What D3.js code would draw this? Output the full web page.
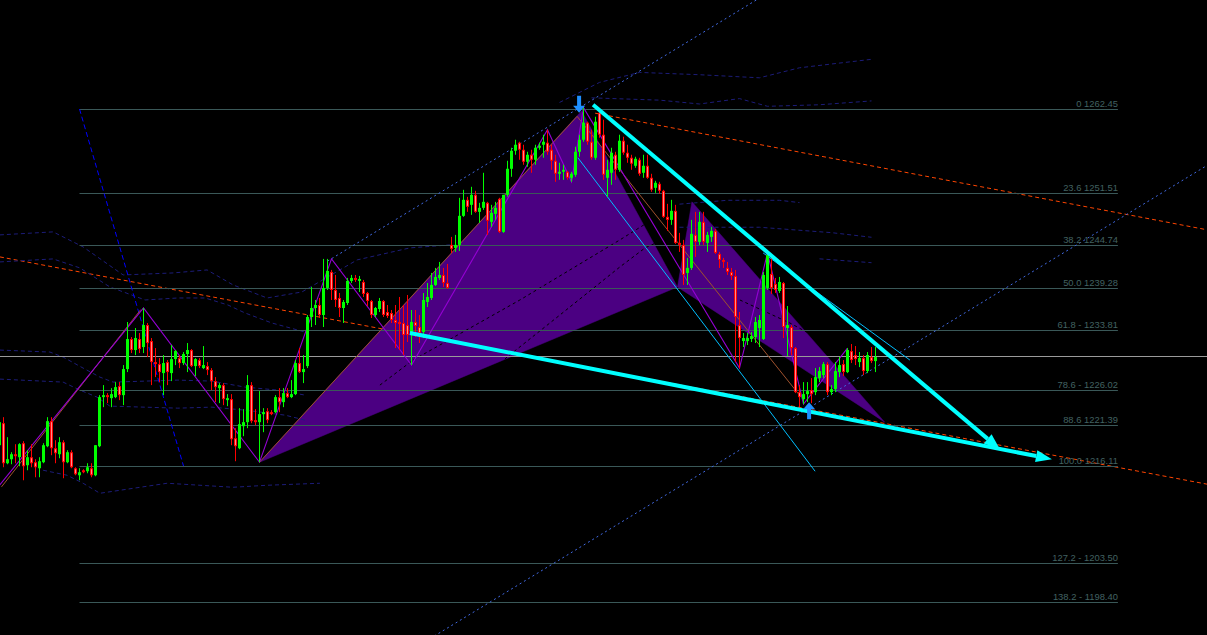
<!DOCTYPE html>
<html><head><meta charset="utf-8">
<script src="https://cdn.jsdelivr.net/npm/d3@7"></script>
<style>html,body{margin:0;padding:0;background:#000;overflow:hidden}svg{display:block}</style>
</head><body>
<svg id="chart" width="1207" height="635"></svg>
<script>
// ---------- DATA ----------
const opens=[1218.81,1221.67,1216.47,1216.99,1217.64,1217.25,1219.07,1216.21,1217.25,1216.60,1215.82,1216.60,1218.68,1221.93,1218.42,1217.64,1219.20,1216.60,1217.90,1215.82,1214.91,1215.56,1215.43,1215.82,1214.91,1218.68,1225.05,1225.31,1224.92,1225.05,1226.48,1225.31,1228.69,1232.59,1231.16,1232.59,1231.55,1234.41,1232.33,1229.60,1229.34,1228.17,1229.60,1228.17,1229.99,1230.12,1229.47,1230.64,1231.16,1229.08,1229.86,1228.82,1229.08,1228.56,1227.13,1226.22,1226.61,1224.66,1224.79,1219.72,1218.42,1221.28,1221.80,1226.61,1222.06,1221.80,1222.84,1223.23,1223.10,1223.10,1225.05,1224.40,1225.57,1225.05,1225.44,1229.47,1228.30,1229.08,1235.45,1236.62,1237.01,1235.71,1239.22,1241.30,1238.96,1237.92,1236.62,1237.27,1240.13,1240.52,1240.13,1240.00,1238.57,1237.53,1235.71,1236.49,1237.53,1236.10,1235.97,1235.06,1234.80,1234.67,1234.41,1233.11,1234.80,1234.15,1233.50,1237.40,1237.92,1239.61,1240.52,1240.91,1239.87,1244.81,1244.42,1244.81,1248.58,1250.66,1250.01,1251.31,1249.10,1249.62,1250.27,1247.80,1248.84,1250.79,1246.50,1251.31,1254.69,1257.03,1258.07,1257.16,1255.60,1256.51,1255.86,1257.42,1257.81,1258.07,1257.16,1255.73,1254.04,1254.30,1254.30,1253.52,1253.91,1256.90,1258.46,1260.67,1258.20,1256.12,1261.97,1259.11,1253.52,1254.17,1256.51,1254.56,1258.33,1256.77,1256.12,1255.08,1255.86,1254.17,1255.08,1253.52,1252.22,1252.74,1251.83,1248.45,1248.06,1249.23,1245.07,1244.81,1241.17,1241.82,1246.11,1245.20,1247.80,1245.07,1245.85,1246.63,1243.64,1242.86,1241.82,1241.30,1240.78,1234.41,1232.33,1232.33,1232.59,1232.85,1234.02,1232.59,1239.22,1241.04,1239.74,1238.83,1239.87,1234.02,1234.15,1231.42,1225.70,1224.79,1225.44,1225.96,1225.70,1227.52,1227.91,1229.34,1225.70,1226.09,1228.30,1229.34,1228.30,1231.03,1230.51,1229.60,1230.12,1228.43,1230.25,1229.73];
const highs=[1222.06,1222.45,1219.85,1217.90,1218.94,1219.07,1219.33,1218.16,1218.94,1216.99,1217.25,1219.07,1222.45,1222.45,1219.46,1219.85,1219.46,1218.16,1218.16,1215.95,1215.82,1215.69,1216.47,1216.47,1218.81,1225.31,1226.61,1225.57,1226.22,1227.00,1227.00,1229.21,1234.80,1232.85,1234.02,1233.37,1236.62,1234.67,1232.72,1231.42,1230.12,1230.51,1229.86,1231.81,1231.16,1230.51,1230.90,1232.07,1231.29,1230.12,1230.12,1231.68,1229.60,1228.82,1227.65,1226.87,1226.87,1225.44,1225.44,1221.02,1223.62,1223.49,1227.91,1227.00,1223.49,1225.83,1223.62,1223.62,1223.36,1225.31,1226.22,1226.22,1226.22,1227.26,1229.86,1231.42,1230.51,1235.71,1239.35,1237.66,1237.92,1242.99,1242.99,1241.56,1240.91,1238.57,1237.66,1240.52,1240.91,1240.91,1240.78,1240.26,1238.70,1237.66,1236.75,1237.92,1237.66,1237.01,1236.36,1237.01,1238.05,1237.01,1238.31,1236.36,1236.36,1235.71,1238.57,1239.87,1241.17,1241.82,1242.60,1241.82,1242.34,1245.85,1246.11,1250.92,1251.96,1251.05,1252.35,1251.83,1250.27,1254.17,1250.40,1250.01,1250.40,1250.92,1251.31,1255.73,1257.42,1258.46,1258.20,1257.81,1256.90,1257.16,1257.81,1258.07,1259.11,1259.76,1257.81,1256.51,1255.47,1255.21,1254.43,1254.30,1257.55,1259.11,1262.62,1260.80,1259.76,1261.45,1262.36,1261.06,1255.86,1257.42,1256.90,1259.11,1258.85,1257.81,1256.51,1256.25,1256.12,1256.51,1256.51,1254.04,1253.13,1253.00,1251.96,1250.14,1250.66,1250.01,1246.37,1245.46,1243.12,1248.06,1249.10,1249.10,1249.10,1246.50,1247.15,1246.89,1243.90,1243.12,1242.60,1241.82,1241.56,1236.10,1233.37,1233.37,1233.50,1235.45,1235.71,1241.30,1243.77,1243.51,1240.52,1240.65,1240.00,1236.88,1234.41,1231.55,1226.61,1227.00,1227.00,1227.52,1228.82,1228.95,1229.60,1229.60,1226.61,1229.60,1230.25,1229.86,1231.42,1231.94,1231.68,1230.90,1230.51,1230.90,1231.55,1231.55];
const lows=[1218.68,1215.95,1216.34,1216.34,1216.47,1216.08,1214.26,1215.56,1215.95,1214.65,1214.65,1216.47,1218.55,1217.51,1216.47,1217.12,1214.52,1216.47,1215.82,1214.91,1214.26,1215.17,1215.17,1214.65,1214.78,1218.55,1223.75,1224.27,1223.75,1224.92,1224.66,1224.01,1228.30,1230.77,1230.51,1230.77,1230.77,1230.25,1226.61,1227.65,1227.00,1225.31,1226.61,1227.13,1229.21,1228.82,1229.21,1228.30,1228.95,1227.78,1228.82,1228.69,1227.91,1225.96,1224.40,1224.27,1224.01,1223.88,1218.81,1216.73,1218.29,1219.98,1221.02,1221.67,1221.41,1216.60,1220.50,1221.67,1222.71,1222.97,1223.10,1223.75,1224.92,1224.92,1225.31,1228.17,1226.87,1228.82,1234.15,1234.41,1235.32,1234.15,1238.96,1237.66,1236.75,1235.45,1234.67,1237.01,1239.87,1240.00,1238.70,1238.05,1236.88,1235.32,1235.45,1236.10,1235.45,1235.32,1234.67,1231.42,1231.16,1230.51,1232.20,1229.21,1232.85,1232.07,1232.72,1236.75,1237.66,1239.48,1240.26,1239.35,1239.09,1243.77,1243.90,1244.03,1248.45,1249.10,1248.71,1248.97,1247.67,1249.36,1246.11,1247.15,1248.06,1246.37,1246.37,1251.05,1253.65,1256.51,1255.86,1255.21,1254.95,1254.17,1255.21,1257.16,1256.12,1256.51,1254.56,1253.00,1253.26,1253.26,1253.26,1253.00,1253.65,1256.25,1258.20,1257.81,1255.86,1255.86,1258.72,1253.26,1251.05,1252.61,1253.26,1254.30,1256.51,1255.47,1254.56,1254.82,1253.78,1253.52,1253.39,1251.70,1251.57,1251.44,1248.32,1246.63,1247.41,1244.94,1243.90,1239.61,1239.61,1241.56,1243.25,1244.81,1244.81,1243.90,1245.20,1243.64,1241.82,1241.82,1240.91,1240.26,1229.60,1228.82,1231.55,1231.81,1232.20,1232.07,1231.55,1232.46,1238.96,1238.44,1238.57,1238.57,1232.72,1230.38,1230.51,1225.57,1223.75,1224.14,1224.40,1224.27,1225.31,1227.00,1227.52,1225.31,1225.31,1225.70,1227.65,1227.78,1228.17,1229.47,1229.21,1228.95,1227.91,1228.17,1229.47,1228.30];
const closes=[1221.80,1216.47,1216.99,1217.64,1217.38,1218.94,1216.08,1217.25,1216.47,1215.95,1216.73,1218.81,1221.93,1218.42,1217.77,1219.20,1216.60,1217.90,1215.95,1215.04,1215.30,1215.30,1215.95,1214.91,1218.81,1225.05,1225.31,1225.05,1225.44,1226.35,1225.31,1228.69,1232.59,1231.16,1232.72,1231.29,1234.41,1232.07,1229.60,1229.34,1228.30,1229.47,1228.30,1229.99,1231.03,1229.47,1230.64,1231.16,1229.08,1229.99,1229.08,1229.21,1228.56,1227.13,1226.35,1226.61,1224.79,1224.92,1219.59,1218.68,1221.54,1221.80,1226.61,1221.93,1221.80,1222.84,1223.10,1222.06,1222.84,1225.05,1224.40,1225.57,1225.05,1225.44,1229.47,1228.30,1228.69,1235.45,1236.62,1237.01,1235.71,1239.22,1241.43,1238.96,1237.66,1236.62,1237.40,1240.13,1240.52,1240.26,1240.39,1238.44,1237.53,1235.71,1236.62,1237.53,1235.71,1235.58,1235.06,1234.67,1234.54,1233.11,1233.11,1234.80,1234.28,1233.37,1237.66,1238.05,1239.61,1240.65,1240.91,1239.87,1239.22,1244.29,1244.81,1248.58,1250.66,1249.75,1251.31,1249.10,1249.62,1250.40,1247.93,1248.97,1249.62,1246.50,1251.31,1254.69,1257.03,1257.81,1257.16,1255.60,1256.51,1255.86,1257.42,1257.68,1258.20,1256.90,1255.73,1254.04,1254.30,1254.56,1253.52,1254.04,1256.90,1258.46,1260.67,1258.20,1256.12,1260.80,1259.11,1253.91,1254.56,1256.77,1254.56,1258.33,1256.77,1256.12,1255.34,1255.99,1254.04,1255.08,1253.52,1251.96,1252.87,1251.83,1248.45,1248.06,1249.23,1245.07,1244.81,1240.91,1241.82,1246.24,1245.20,1247.80,1245.20,1246.11,1246.63,1243.77,1242.86,1242.60,1241.30,1240.78,1235.45,1232.72,1232.72,1232.72,1232.98,1234.80,1235.06,1240.91,1243.51,1239.22,1238.96,1240.00,1234.15,1234.41,1231.42,1225.70,1225.05,1225.44,1225.83,1225.44,1227.65,1228.43,1229.34,1225.70,1226.09,1228.43,1229.21,1228.30,1231.16,1229.86,1229.99,1230.12,1228.43,1230.51,1229.73,1230.25];

// Fibonacci retracement
const fibHigh=1262.45, fibLow=1216.11;
const fibPct=[0,23.6,38.2,50.0,61.8,78.6,88.6,100.0,127.2,138.2];
const fibLabels=["0 1262.45","23.6 1251.51","38.2 1244.74","50.0 1239.28","61.8 - 1233.81","78.6 - 1226.02","88.6 1221.39","100.0 1216.11","127.2 - 1203.50","138.2 - 1198.40"];
const fibAnchor=[[20,1262.45],[46,1216.11]];
const fibRightBar=279.6;

// Harmonic pattern X-A-B-C-D  [bar, price]
const patternX=[65,1216.60], patternA=[145.5,1262.2], patternB=[169.5,1239.35], patternC=[173.1,1250.4], patternD=[221.3,1221.8];

// ZigZag swings (violet) and larger swing legs (sienna)
const zigzag=[[0,1213.6],[36,1236.62],[65,1216.60],[83,1242.99],[103,1229.21],[137,1259.76],[143,1253.00],[146,1262.62],[185,1228.82],[192,1243.77],[201,1224.14],[212,1231.42]];
const swingLegsA=[[0.5,1213.4],[35.3,1236.4]];
const swingLegsB=[[65,1216.6],[144.4,1261.5],[200,1225.3]];

// Trend channel (royal blue dotted)
const channelTop=[[82,1242.7],[190,1276.85]];
const channelBottomAt=[150,1207.1];
const channelEndBar=320;

// Regression-style lines (orange-red dashed)
const orangeLower=[[0.1,1243.25],[302,1213.74]];
const orangeUpper=[[148.9,1261.91],[302,1246.76]];

// Thin trend lines (deep sky blue)
const thinLine1=[[144.6,1256.12],[203.9,1215.43]];
const thinLine2=[[190.9,1243.77],[227.6,1229.86]];

// Thick arrows (cyan)
const arrow1=[[148.4,1263.01],[250.1,1218.29]];
const arrow2=[[102.6,1233.37],[263.1,1217.0]];

// Signal arrows
const signalDown=[144.9,1261.97];
const signalUp=[202.4,1224.4];

// Envelope lines (navy dashed)
const env1=[[0.1,1246.11],[13.4,1246.50],[20.9,1244.55],[30.9,1240.91],[43.4,1241.17],[51.9,1241.56],[58.4,1239.61],[66.9,1237.92],[75.6,1238.70],[89.4,1242.86],[102.6,1244.42],[112.6,1244.81]];
const env2=[[0.1,1242.60],[13.4,1242.99],[20.1,1241.82],[27.6,1239.35],[36.4,1237.66],[44.6,1237.92],[51.4,1237.92],[57.1,1237.01],[61.4,1235.97],[68.1,1234.67],[76.4,1233.50]];
const env3=[[0.1,1231.16],[12.6,1230.90],[15.9,1230.25],[20.9,1228.82],[25.1,1227.65],[28.4,1227.00],[44.6,1227.26],[53.1,1227.13],[61.4,1226.35],[69.6,1225.96],[76.4,1225.31]];
const env4=[[0.1,1227.39],[15.9,1227.00],[20.1,1225.96],[24.4,1225.05],[27.6,1223.88],[44.6,1223.62],[53.1,1223.75],[61.4,1223.36],[71.4,1222.71],[76.4,1222.06]];
const env5=[[10.9,1215.56],[16.9,1214.91],[20.9,1213.87],[25.1,1212.57],[41.9,1213.87],[58.4,1213.35],[66.9,1213.61],[80.1,1213.87]];
const env6=[[140,1263.3],[150,1265.9],[160,1267.2],[175,1266.9],[190,1266.5],[200,1267.8],[218,1268.9]];
const env7=[[148,1263.9],[165,1263.6],[175,1263.1],[185,1263.8],[192,1262.8],[205,1263.0],[218,1263.5]];
const env8=[[170,1250.1],[182,1250.6],[195,1250.6],[200,1250.3]];
const env9=[[170,1247.1],[190,1247.1],[208,1246.4],[218,1245.8]];
const env10=[[205,1243.0],[218,1242.5]];
// dark averages (black dashed, seen over the pattern fill)
const avgDark1=[[95.1,1226.61],[103.4,1229.86],[130.1,1237.66],[155.1,1245.46],[163.1,1248.06],[172.6,1250.01]];
const avgDark2=[[117.6,1225.70],[126.9,1230.25],[140.1,1235.71],[155.1,1241.95],[161.4,1244.42],[170.1,1246.50]];
const avgDark3=[[185.1,1237.66],[197.6,1234.67],[210.1,1231.16],[220.1,1229.21]];

// ---------- DRAW ----------
const W=1207,H=635;
const svg=d3.select("#chart");
svg.append("rect").attr("width",W).attr("height",H).attr("fill","#000");
const x=d3.scaleLinear().domain([0,1]).range([-0.5,3.5]);
const y=d3.scaleLinear().domain([fibLow,fibHigh]).range([466,109]);
const line=d3.line().x(d=>x(d[0])).y(d=>y(d[1]));
const ext=(p1,p2,b)=>[p1,[b,p1[1]+(p2[1]-p1[1])/(p2[0]-p1[0])*(b-p1[0])]];

const g=svg.append("g");

// orange lines
[orangeLower,orangeUpper].forEach(l=>g.append("path").attr("d",line(l)).attr("fill","none")
  .attr("stroke","#ff4500").attr("stroke-width",1).attr("stroke-dasharray","4,3"));

// harmonic triangles
[[patternX,patternA,patternB],[patternB,patternC,patternD]].forEach(t=>
  g.append("path").attr("d",line(t)+"Z").attr("fill","#4b0082").attr("stroke","#4b0082").attr("stroke-width",0.5));

// envelopes
[env1,env2,env3,env4,env5,env6,env7,env8,env9,env10].forEach(l=>g.append("path").attr("d",line(l))
  .attr("fill","none").attr("stroke","#1c1c78").attr("stroke-width",1).attr("stroke-dasharray","4,3"));
[avgDark1,avgDark2,avgDark3].forEach(l=>g.append("path").attr("d",line(l))
  .attr("fill","none").attr("stroke","#000000").attr("stroke-width",1).attr("stroke-dasharray","3,3"));

// fib levels
const fibG=g.append("g");
fibPct.forEach((p,k)=>{
  const price=fibHigh-p/100*(fibHigh-fibLow);
  const yy=Math.round(y(price))+0.5;
  fibG.append("line").attr("x1",x(fibAnchor[0][0])).attr("x2",x(fibRightBar)).attr("y1",yy).attr("y2",yy)
    .attr("stroke","#3a5858").attr("stroke-width",1.2);
});
// fib base line
g.append("path").attr("d",line(fibAnchor)).attr("fill","none").attr("stroke","#0000ff")
  .attr("stroke-width",1).attr("stroke-dasharray","5,3");

// channel
const chTop=ext(channelTop[0],channelTop[1],channelEndBar);
const off=channelBottomAt[1]-(channelTop[0][1]+(channelTop[1][1]-channelTop[0][1])/(channelTop[1][0]-channelTop[0][0])*(channelBottomAt[0]-channelTop[0][0]));
const chBot=chTop.map(d=>[d[0],d[1]+off]);
[chTop,chBot].forEach(l=>g.append("path").attr("d",line(l)).attr("fill","none").attr("stroke","#4169e1")
  .attr("stroke-width",1).attr("stroke-dasharray","2,3"));

// bid line
const by=Math.round(y(closes[closes.length-1]))-0.5;
g.append("line").attr("x1",0).attr("x2",W).attr("y1",by).attr("y2",by).attr("stroke","#9a9a9a").attr("stroke-width",1);

// swing lines
[swingLegsA,swingLegsB].forEach(l=>g.append("path").attr("d",line(l)).attr("fill","none").attr("stroke","#a0522d").attr("stroke-width",1));
g.append("path").attr("d",line(zigzag)).attr("fill","none").attr("stroke","#9400d3").attr("stroke-width",1.1);

// thin lines
[thinLine1,thinLine2].forEach(l=>g.append("path").attr("d",line(l)).attr("fill","none").attr("stroke","#00bfff").attr("stroke-width",1));

// candles
const cg=g.append("g");
closes.forEach((c,i)=>{
  const o=opens[i], up=c>=o, col=up?"#00ff00":"#ff0000";
  const cx=x(i);
  cg.append("line").attr("x1",cx).attr("x2",cx).attr("y1",y(highs[i])).attr("y2",y(lows[i])).attr("stroke",col).attr("stroke-width",1);
  const t=y(Math.max(o,c)), b=y(Math.min(o,c));
  cg.append("rect").attr("x",cx-1.5).attr("y",t).attr("width",3).attr("height",Math.max(1,b-t)).attr("fill",col);
  if(!up && b-t>2) cg.append("line").attr("x1",cx).attr("x2",cx).attr("y1",t+1).attr("y2",b-1).attr("stroke","#ff8c8c").attr("stroke-width",1);
});

// thick arrows
[arrow1,arrow2].forEach(a=>{
  const x1=x(a[0][0]),y1=y(a[0][1]),x2=x(a[1][0]),y2=y(a[1][1]);
  const ang=Math.atan2(y2-y1,x2-x1), L=16, hw=6;
  const bx=x2-L*Math.cos(ang), byy=y2-L*Math.sin(ang);
  g.append("line").attr("x1",x1).attr("y1",y1).attr("x2",bx).attr("y2",byy).attr("stroke","#00ffff").attr("stroke-width",4);
  const p=[[x2,y2],[bx+hw*Math.sin(ang),byy-hw*Math.cos(ang)],[bx-hw*Math.sin(ang),byy+hw*Math.cos(ang)]];
  g.append("path").attr("d","M"+p.map(q=>q.join(",")).join("L")+"Z").attr("fill","#00ffff");
});

// signal arrows
function sig(pt,dir){
  const cx=x(pt[0]), ty=y(pt[1]), s=dir==="down"?-1:1;
  const d=`M${cx},${ty} L${cx-6},${ty+s*7} L${cx-2},${ty+s*7} L${cx-2},${ty+s*17} L${cx+2},${ty+s*17} L${cx+2},${ty+s*7} L${cx+6},${ty+s*7} Z`;
  g.append("path").attr("d",d).attr("fill","#1e90ff");
}
sig(signalDown,"down"); sig(signalUp,"up");

// fib labels
fibPct.forEach((p,k)=>{
  const price=fibHigh-p/100*(fibHigh-fibLow);
  g.append("text").attr("x",x(fibRightBar)).attr("y",Math.round(y(price))-2).attr("text-anchor","end")
   .attr("font-family","Liberation Sans, Arial, sans-serif").attr("font-size","9.4px").attr("fill","#426262").text(fibLabels[k]);
});
</script>
</body></html>
